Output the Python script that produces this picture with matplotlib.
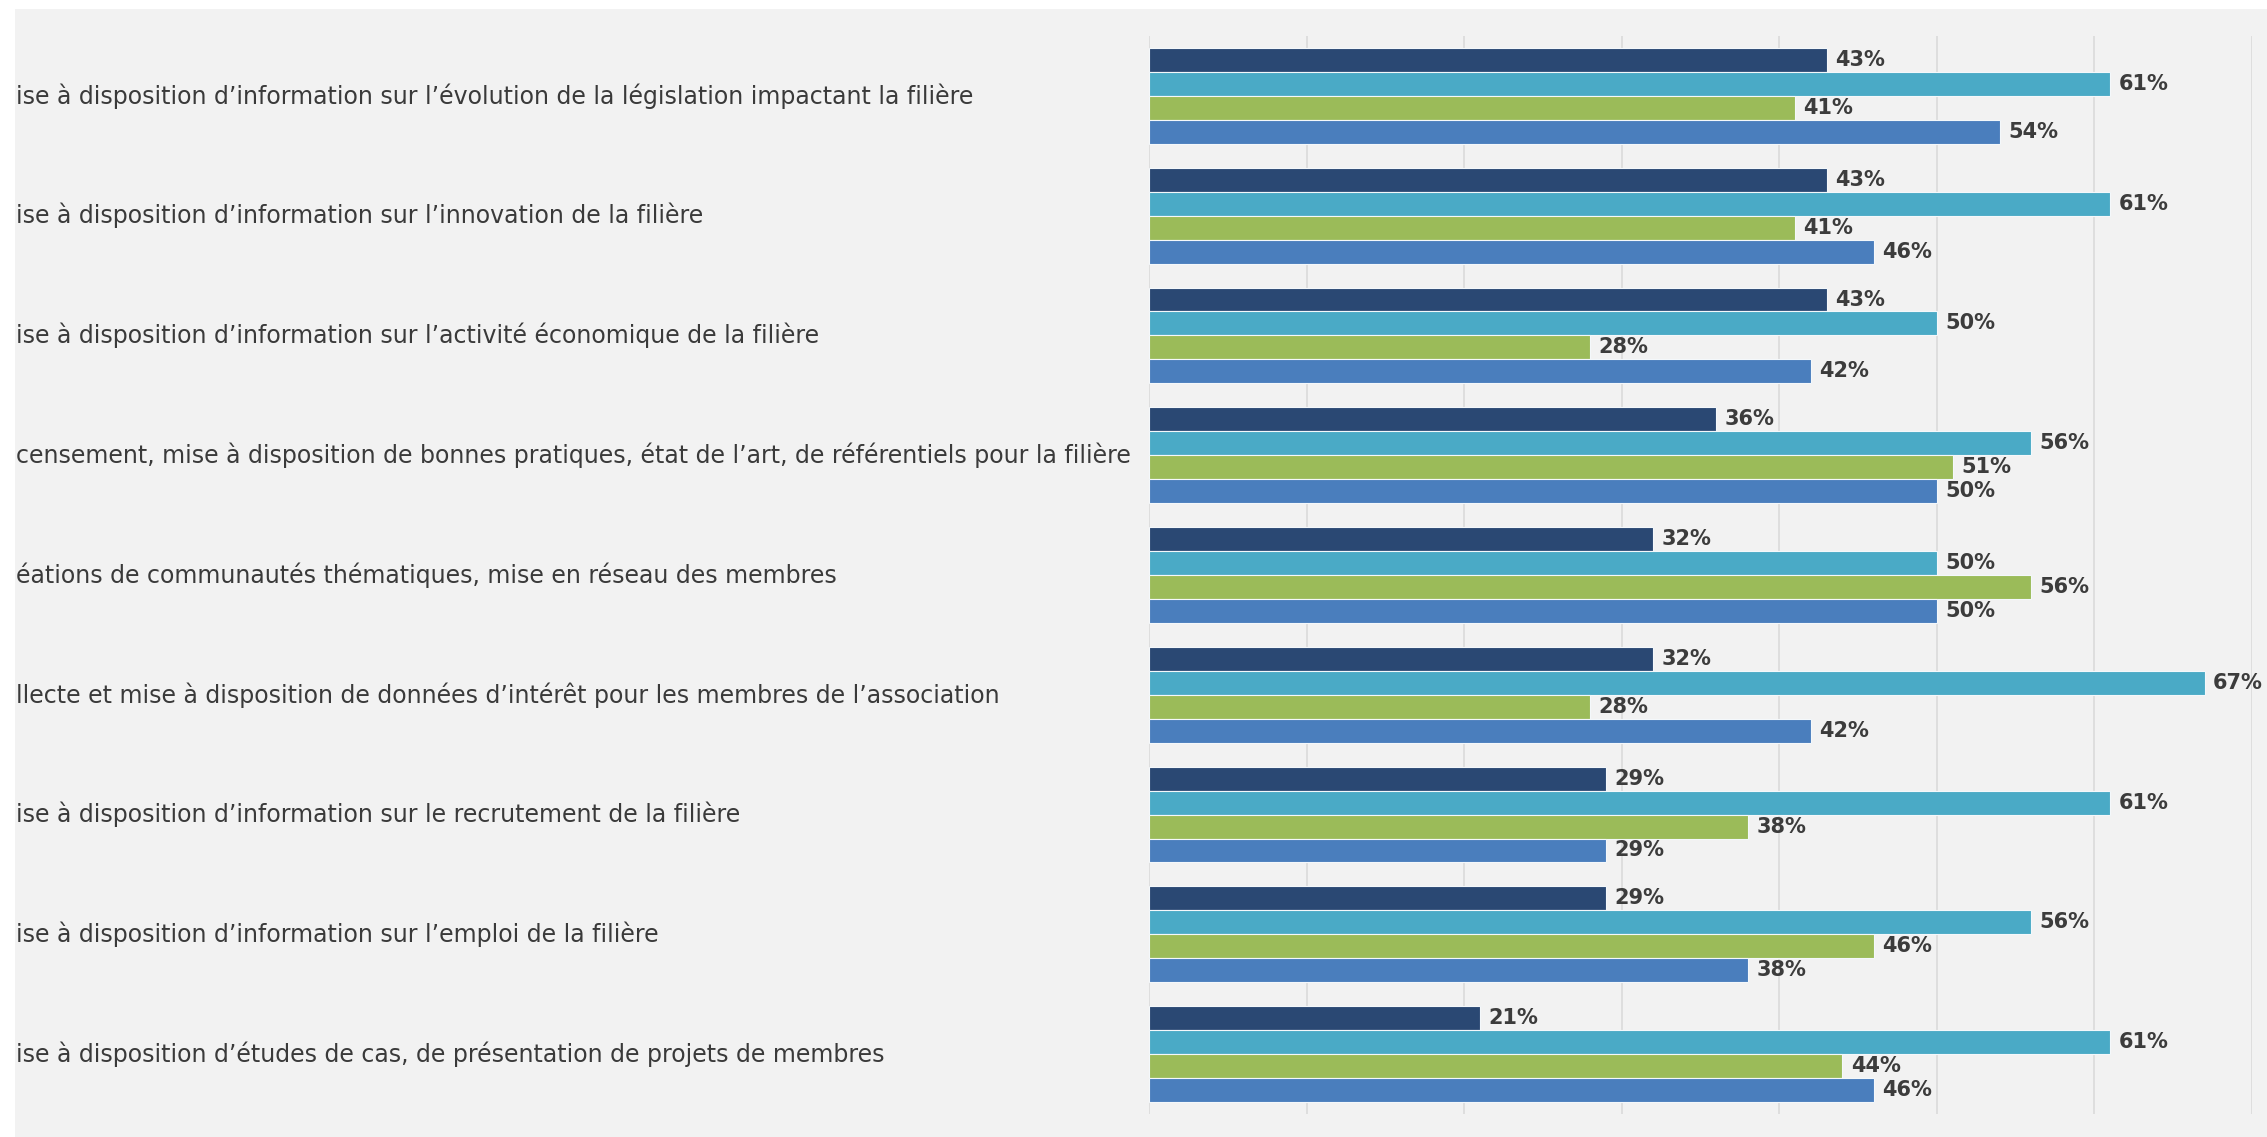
import matplotlib
matplotlib.use("Agg")
import matplotlib.pyplot as plt
import matplotlib.transforms as mtransforms
import numpy as np

# ---- data ----
# category labels as they are visible in the chart (their beginnings are cut off by the frame)
categories = [
    "ise à disposition d’information sur l’évolution de la législation impactant la filière",
    "ise à disposition d’information sur l’innovation de la filière",
    "ise à disposition d’information sur l’activité économique de la filière",
    "censement, mise à disposition de bonnes pratiques, état de l’art, de référentiels pour la filière",
    "éations de communautés thématiques, mise en réseau des membres",
    "llecte et mise à disposition de données d’intérêt pour les membres de l’association",
    "ise à disposition d’information sur le recrutement de la filière",
    "ise à disposition d’information sur l’emploi de la filière",
    "ise à disposition d’études de cas, de présentation de projets de membres",
]
serie_1 = [43, 43, 43, 36, 32, 32, 29, 29, 21]
serie_2 = [61, 61, 50, 56, 50, 67, 61, 56, 61]
serie_3 = [41, 41, 28, 51, 56, 28, 38, 46, 44]
serie_4 = [54, 46, 42, 50, 50, 42, 29, 38, 46]
series = [serie_1, serie_2, serie_3, serie_4]
colors = ["#2a4873", "#4aaac6", "#9bbb59", "#4a7ebd"]
x_ticks = [0, 10, 20, 30, 40, 50, 60, 70]

W, H = 2267, 1137
fig = plt.figure(figsize=(W / 100, H / 100), dpi=100, facecolor="white")

# grey background panel (chart area)
ax_bg = fig.add_axes([15 / W, 0, 1 - 15 / W, 1 - 9 / H])
ax_bg.set_facecolor("#f2f2f2")
ax_bg.set_xticks([])
ax_bg.set_yticks([])
for s in ax_bg.spines.values():
    s.set_visible(False)

# bar axes
left_px, right_px, top_px, bottom_px = 1149, 2252, 36, 1114
ax = fig.add_axes([left_px / W, (H - bottom_px) / H,
                   (right_px - left_px) / W, (bottom_px - top_px) / H])
ax.patch.set_alpha(0)
n = len(categories)
y = np.arange(n)
h = 0.2
offsets = [-0.3, -0.1, 0.1, 0.3]
for vals, col, off in zip(series, colors, offsets):
    bars = ax.barh(y + off, vals, height=h, color=col, edgecolor="#f4f8fb",
                   linewidth=0.8, zorder=3)
    ax.bar_label(bars, labels=[f"{v}%" for v in vals], padding=6,
                 fontsize=15, fontweight="bold", color="#3c3c3c", zorder=4)

ax.set_xlim(0, 70)
ax.set_ylim(n - 0.5, -0.5)
ax.set_xticks(x_ticks)
ax.set_yticks([])
ax.tick_params(axis="x", length=0, labelbottom=False)
ax.grid(axis="x", color="#dadada", linewidth=1.2, zorder=0)
for s in ax.spines.values():
    s.set_visible(False)

# category labels, left aligned at the frame edge
trans = mtransforms.blended_transform_factory(fig.transFigure, ax.transData)
for i, lab in enumerate(categories):
    fig.text(16 / W, i, lab, transform=trans, ha="left", va="center",
             fontsize=17, color="#3a3a3a")

fig.savefig("out.png", dpi=100, facecolor="white")
